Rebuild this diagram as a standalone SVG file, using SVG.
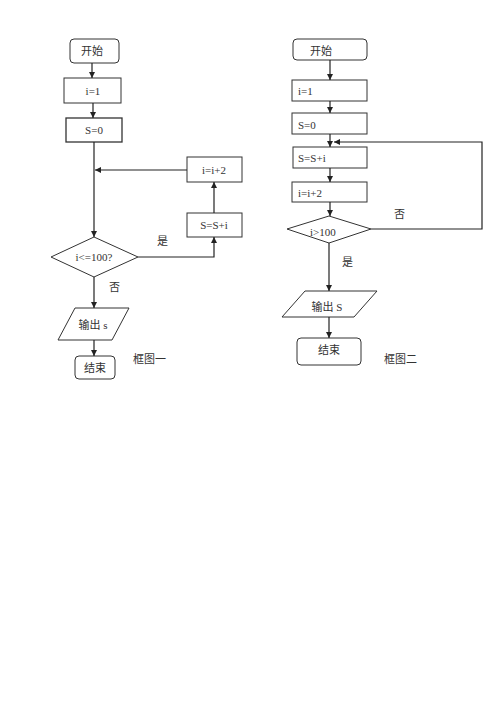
<svg xmlns="http://www.w3.org/2000/svg" width="500" height="707" viewBox="0 0 500 707">
<defs>
<marker id="ah" viewBox="0 0 10 10" refX="10" refY="5" markerWidth="6" markerHeight="6" orient="auto" markerUnits="userSpaceOnUse">
<path d="M0,0 L10,5 L0,10 z" fill="#222"/>
</marker>
<style>
.box{fill:#fff;stroke:#333;stroke-width:1}
.ln{fill:none;stroke:#333;stroke-width:1}
.arr{fill:none;stroke:#222;stroke-width:1.2;marker-end:url(#ah)}
text{font-family:"Liberation Serif","Noto Sans CJK SC",serif;font-size:11px;fill:#333;dominant-baseline:central}
.c{text-anchor:middle}
</style>
</defs>
<rect width="500" height="707" fill="#fff"/>
<!-- Chart 1 -->
<g id="l_start"><rect class="box" x="70" y="39" width="49" height="24" rx="4"/><text class="c" x="92" y="51">开始</text></g>
<g id="l_i1"><rect class="box" x="64" y="78" width="57" height="25"/><text class="c" x="93" y="91">i=1</text></g>
<g id="l_s0"><rect class="box" x="66" y="118" width="56" height="24" style="stroke-width:1.3"/><text class="c" x="94" y="130">S=0</text></g>
<g id="l_inc"><rect class="box" x="187" y="157" width="55" height="25"/><text class="c" x="214" y="170">i=i+2</text></g>
<g id="l_sum"><rect class="box" x="187" y="213" width="55" height="24"/><text class="c" x="214" y="225">S=S+i</text></g>
<g id="l_cond"><polygon class="box" points="94,237 138,257 94,277 51,257"/><text class="c" x="94" y="257">i&lt;=100?</text></g>
<g id="l_out"><polygon class="box" points="75,308 129,308 112,340 58,340"/><text class="c" x="93" y="325">输出 s</text></g>
<g id="l_end"><rect class="box" x="75" y="356" width="40" height="23" rx="4"/><text class="c" x="95" y="368">结束</text></g>
<text x="133" y="359">框图一</text>
<!-- Chart 2 -->
<g id="r_start"><rect class="box" x="293" y="39" width="74" height="21" rx="4"/><text x="310" y="51">开始</text></g>
<g id="r_i1"><rect class="box" x="292" y="80" width="75" height="21"/><text x="298" y="91">i=1</text></g>
<g id="r_s0"><rect class="box" x="292" y="113" width="75" height="21"/><text x="298" y="125">S=0</text></g>
<g id="r_sum"><rect class="box" x="293" y="147" width="74" height="21"/><text x="298" y="158">S=S+i</text></g>
<g id="r_inc"><rect class="box" x="292" y="182" width="75" height="20"/><text x="298" y="193">i=i+2</text></g>
<g id="r_cond"><polygon class="box" points="329,216 371,229 329,243 287,229"/><text x="310" y="232">i&gt;100</text></g>
<g id="r_out"><polygon class="box" points="305,291 377,291 354,317 282,317"/><text class="c" x="327" y="307">输出 S</text></g>
<g id="r_end"><rect class="box" x="297" y="338" width="64" height="27" rx="4"/><text class="c" x="329" y="350">结束</text></g>
<text x="384" y="359">框图二</text>
<!-- connectors -->
<g id="connectors">
<line class="arr" x1="92" y1="63" x2="92" y2="78"/>
<line class="arr" x1="93" y1="103" x2="93" y2="118"/>
<line class="arr" x1="94" y1="142" x2="94" y2="237"/>
<line class="arr" x1="187" y1="170" x2="95" y2="170"/>
<line class="arr" x1="214" y1="213" x2="214" y2="182"/>
<polyline class="arr" points="138,257 214,257 214,237"/>
<line class="arr" x1="94" y1="277" x2="94" y2="308"/>
<line class="arr" x1="94" y1="340" x2="94" y2="356"/>
<text x="157" y="241">是</text>
<text x="109" y="287">否</text>
<line class="arr" x1="330" y1="60" x2="330" y2="80"/>
<line class="arr" x1="330" y1="101" x2="330" y2="113"/>
<line class="arr" x1="330" y1="134" x2="330" y2="147"/>
<line class="arr" x1="330" y1="168" x2="330" y2="182"/>
<line class="arr" x1="330" y1="202" x2="330" y2="216"/>
<polyline class="arr" points="371,229 482,229 482,142 334,142"/>
<line class="arr" x1="329" y1="243" x2="329" y2="291"/>
<line class="arr" x1="329" y1="317" x2="329" y2="338"/>
<text x="394" y="214">否</text>
<text x="342" y="262">是</text>
</g>
</svg>
